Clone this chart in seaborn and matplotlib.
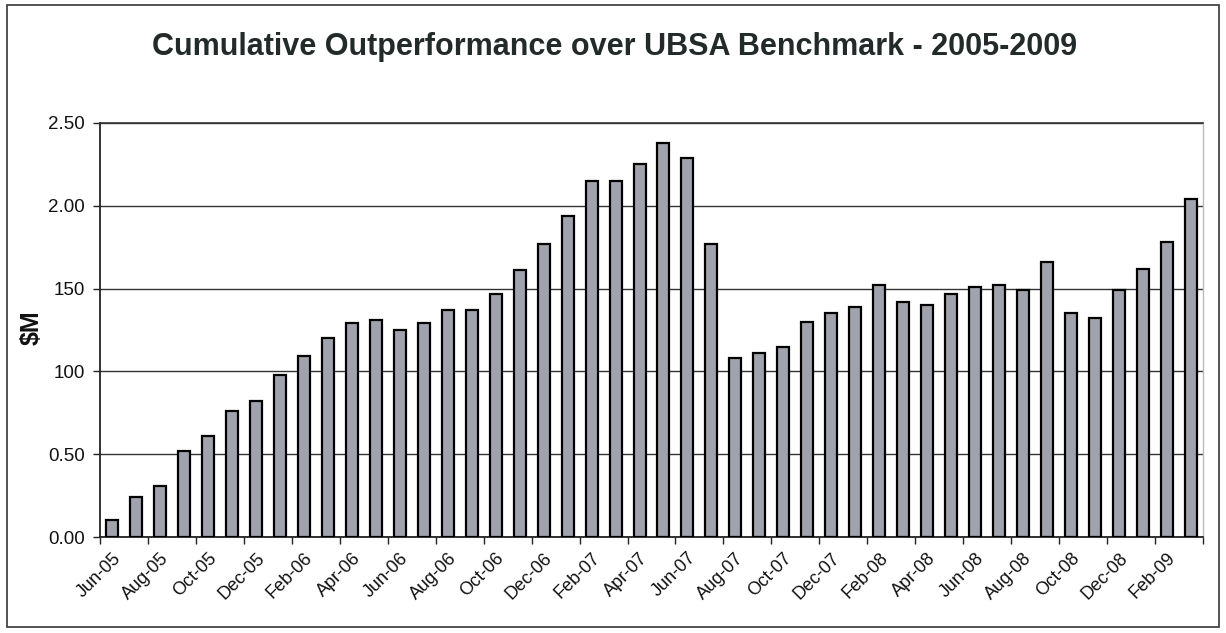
import numpy as np
import matplotlib
matplotlib.use("Agg")
import matplotlib.pyplot as plt
import seaborn as sns
from matplotlib.patches import Rectangle
from matplotlib.ticker import FixedLocator

# monthly data Jun-05 .. Mar-09
months = ["Jun-05", "Jul-05", "Aug-05", "Sep-05", "Oct-05", "Nov-05", "Dec-05",
          "Jan-06", "Feb-06", "Mar-06", "Apr-06", "May-06", "Jun-06", "Jul-06",
          "Aug-06", "Sep-06", "Oct-06", "Nov-06", "Dec-06", "Jan-07", "Feb-07",
          "Mar-07", "Apr-07", "May-07", "Jun-07", "Jul-07", "Aug-07", "Sep-07",
          "Oct-07", "Nov-07", "Dec-07", "Jan-08", "Feb-08", "Mar-08", "Apr-08",
          "May-08", "Jun-08", "Jul-08", "Aug-08", "Sep-08", "Oct-08", "Nov-08",
          "Dec-08", "Jan-09", "Feb-09", "Mar-09"]
outperf = [0.10, 0.24, 0.31, 0.52, 0.61, 0.76, 0.82, 0.98, 1.09, 1.20,
           1.29, 1.31, 1.25, 1.29, 1.37, 1.37, 1.47, 1.61, 1.77, 1.94,
           2.15, 2.15, 2.25, 2.38, 2.29, 1.77, 1.08, 1.11, 1.15, 1.30,
           1.35, 1.39, 1.52, 1.42, 1.40, 1.47, 1.51, 1.52, 1.49, 1.66,
           1.35, 1.32, 1.49, 1.62, 1.78, 2.04]
ytick_vals = [0.0, 0.5, 1.0, 1.5, 2.0, 2.5]
ytick_labels = ["0.00", "0.50", "100", "150", "2.00", "2.50"]

sns.set_style("white")
plt.rcParams['font.family'] = ['Liberation Sans', 'DejaVu Sans']

fig = plt.figure(figsize=(12.26, 6.33), dpi=100)
ax = fig.add_axes([100 / 1226, 96 / 633, 1103 / 1226, 414 / 633])

sns.barplot(x=months, y=outperf, color="#a0a3ac", edgecolor="black",
            linewidth=1.6, width=0.5, saturation=1, ax=ax, zorder=3)

ax.set_ylim(0, 2.5)
ax.set_xlim(-0.5, len(months) - 0.5)
ax.set_yticks(ytick_vals)
ax.set_yticklabels(ytick_labels, fontsize=13.5, color="#111111")
ax.yaxis.grid(True, color="#333333", linewidth=1.0, zorder=0)
ax.set_axisbelow(True)

# labels every other month, tick marks between category pairs
ax.set_xticks(range(0, len(months), 2))
ax.set_xticklabels(months[::2], rotation=45, ha="right",
                   rotation_mode="anchor", fontsize=13, color="#111111")
ax.xaxis.set_minor_locator(FixedLocator(np.arange(-0.5, len(months), 2)))
ax.tick_params(axis="x", which="major", length=0, pad=9)
ax.tick_params(axis="x", which="minor", length=5, width=1, color="#222222",
               direction="out", bottom=True)
ax.tick_params(axis="y", length=5, width=1, color="#222222", direction="out",
               left=True, pad=6)
ax.set_xlabel("")
ax.set_ylabel("")

for side in ["left", "bottom"]:
    ax.spines[side].set_color("#222222")
    ax.spines[side].set_linewidth(1.3)
ax.spines["top"].set_color("#333333")
ax.spines["top"].set_linewidth(1.2)
ax.spines["right"].set_color("#bbbbbb")
ax.spines["right"].set_linewidth(1.0)

fig.text(0.5016, 0.926, "Cumulative Outperformance over UBSA Benchmark - 2005-2009",
         ha="center", va="center", fontsize=22, fontweight="bold", color="#222a2a")
fig.text(32 / 1226, 1 - 328 / 633, "$M", rotation=90, ha="center", va="center",
         fontsize=18, fontweight="bold", color="#111111")

# outer chart border
fig.patches.append(Rectangle((7 / 1226, 1 - 627 / 633), 1212 / 1226, 622 / 633,
                             transform=fig.transFigure, fill=False,
                             edgecolor="#444444", linewidth=1.3))

fig.savefig("out.png", dpi=100)
